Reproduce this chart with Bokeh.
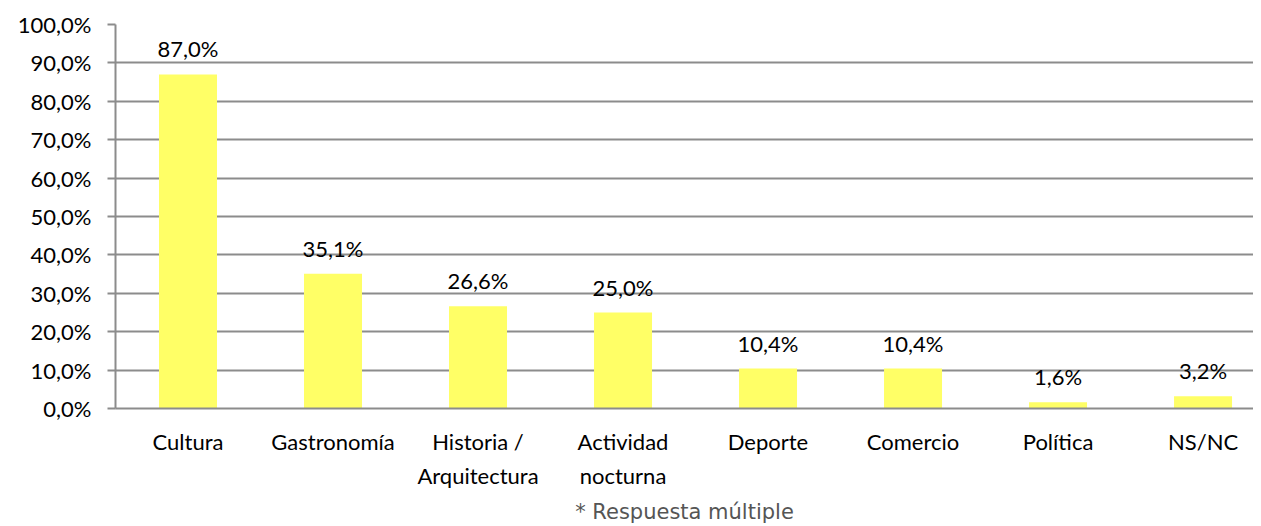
from bokeh.plotting import figure
from bokeh.models import ColumnDataSource, FixedTicker, CustomJSTickFormatter, Range1d, LabelSet, LinearAxis
from bokeh.core.properties import value
from bokeh.embed import file_html
from bokeh.resources import INLINE

cat_line1 = ["Cultura", "Gastronomía", "Historia /", "Actividad", "Deporte", "Comercio", "Política", "NS/NC"]
cat_line2 = ["", "", "Arquitectura", "nocturna", "", "", "", ""]
values = [87.0, 35.1, 26.6, 25.0, 10.4, 10.4, 1.6, 3.2]
labels = ["87,0%", "35,1%", "26,6%", "25,0%", "10,4%", "10,4%", "1,6%", "3,2%"]
y_ticks = [0, 10, 20, 30, 40, 50, 60, 70, 80, 90, 100]
footnote = "* Respuesta múltiple"

xs = [i + 0.5 for i in range(len(cat_line1))]
src = ColumnDataSource(dict(x=xs, top=values, lab=labels))

FONT = "Lato"
FS = "22px"
GRID = "#8c8c8c"
p = figure(width=1253, height=526, output_backend="svg", toolbar_location=None,
           x_range=Range1d(0, 7.848), y_range=Range1d(0, 100),
           min_border_left=115, min_border_right=0, min_border_top=24, min_border_bottom=0)
p.outline_line_color = None
p.background_fill_color = "white"

p.vbar(x="x", top="top", width=0.4, bottom=0, source=src, fill_color="#FFFF66", line_color=None)

p.add_layout(LabelSet(x="x", y="top", text="lab", source=src, text_align="center",
                      text_baseline="bottom", y_offset=12, text_font=value(FONT),
                      text_font_size=FS, text_color="#000000"))

p.yaxis.ticker = FixedTicker(ticks=y_ticks)
p.yaxis.formatter = CustomJSTickFormatter(code="return tick.toFixed(1).replace('.', ',') + '%';")
p.yaxis.major_label_text_font = FONT
p.yaxis.major_label_text_font_size = FS
p.yaxis.major_label_text_color = "#000000"
p.yaxis.axis_line_color = GRID
p.yaxis.axis_line_width = 2
p.yaxis.major_tick_line_color = GRID
p.yaxis.major_tick_line_width = 2
p.yaxis.major_tick_in = 0
p.yaxis.major_tick_out = 8
p.yaxis.minor_tick_line_color = None
p.yaxis.major_label_standoff = 16

p.xaxis.ticker = FixedTicker(ticks=xs)
p.xaxis.major_label_overrides = {x: c for x, c in zip(xs, cat_line1)}
p.xaxis.major_label_text_font = FONT
p.xaxis.major_label_text_font_size = FS
p.xaxis.major_label_text_color = "#000000"
p.xaxis.major_tick_line_color = None
p.xaxis.minor_tick_line_color = None
p.xaxis.major_tick_out = 0
p.xaxis.axis_line_color = GRID
p.xaxis.axis_line_width = 2
p.xaxis.major_label_standoff = 19

ax2 = LinearAxis(ticker=FixedTicker(ticks=xs),
                 major_label_overrides={x: c for x, c in zip(xs, cat_line2)},
                 major_label_text_font=FONT, major_label_text_font_size=FS,
                 major_label_text_color="#000000", major_tick_line_color=None,
                 minor_tick_line_color=None, major_tick_out=0, major_tick_in=0,
                 axis_line_color=None, major_label_standoff=4,
                 axis_label=footnote, axis_label_text_font="DejaVu Sans",
                 axis_label_text_font_style="normal", axis_label_text_font_size="21px",
                 axis_label_text_color="#555555", axis_label_standoff=8)
p.add_layout(ax2, "below")

p.xgrid.grid_line_color = None
p.ygrid.grid_line_color = GRID
p.ygrid.grid_line_width = 2
p.ygrid.ticker = FixedTicker(ticks=y_ticks)

open("out.html", "w").write(file_html(p, INLINE))
